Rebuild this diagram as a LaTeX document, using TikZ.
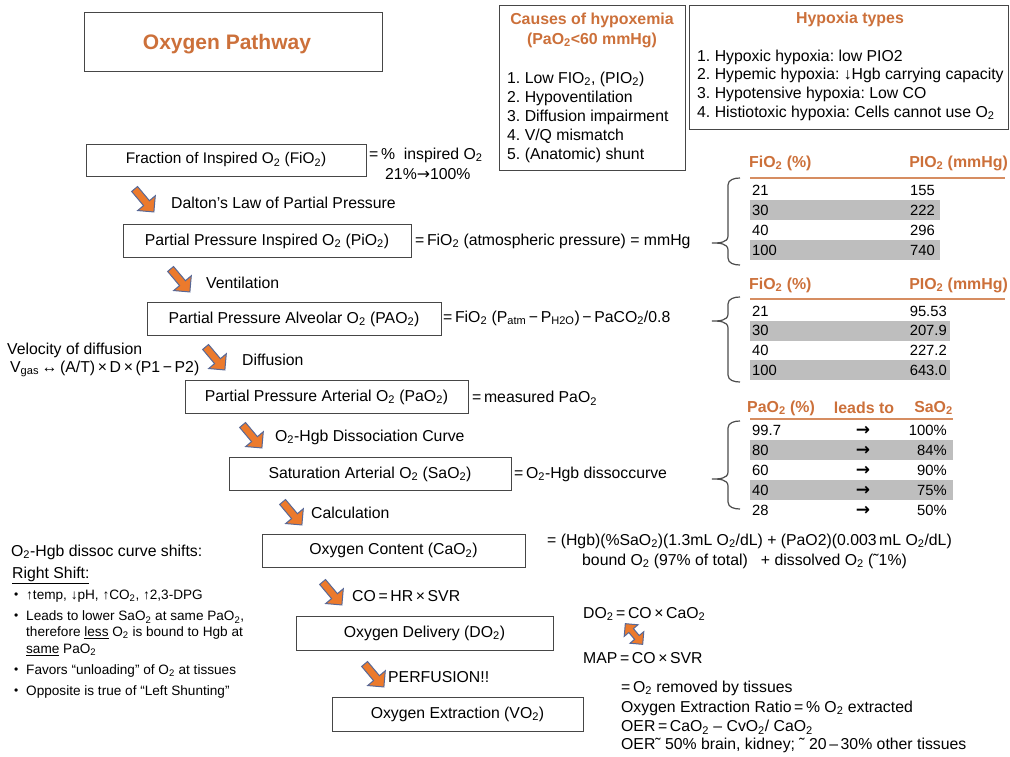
\documentclass[tikz,border=0pt]{standalone}
\usepackage{fontspec}
\setmainfont{Liberation Sans}
\newfontfamily\arrowfont{DejaVu Sans}
\usetikzlibrary{shapes.arrows}
\definecolor{porange}{RGB}{204,112,58}
\definecolor{aorange}{RGB}{236,122,44}
\definecolor{ablue}{RGB}{88,104,150}
\definecolor{rowgray}{RGB}{190,190,190}
\definecolor{boxgray}{RGB}{70,70,70}
\newcommand{\Ot}{O\textsubscript{2}}
\newcommand{\rarr}{{\arrowfont →}}
\frenchspacing
\tikzset
{
    % Style for the steps of the pathway
    stepbox/.style=
    {
        draw=boxgray,
        line width=1pt,
        inner sep=0pt,
        font=\fontsize{15.8}{18}\selectfont
    },
    % Style for the boxes at the top
    topbox/.style=
    {
        draw=boxgray,
        line width=1pt
    },
    % Style for plain text beside the steps
    note/.style=
    {
        anchor=west,
        inner sep=0pt,
        font=\fontsize{15.8}{18}\selectfont
    },
    % Smaller text for the list on the left
    small note/.style=
    {
        note,
        font=\fontsize{13.6}{15}\selectfont
    },
    % Text in the tables
    cell/.style=
    {
        note,
        font=\fontsize{14.8}{16}\selectfont
    },
    % Orange headings
    heading/.style=
    {
        inner sep=0pt,
        text=porange,
        font=\fontsize{15.9}{18}\selectfont\bfseries
    },
    % Style for the fat arrows between the steps
    fat arrow/.style=
    {
        shape=single arrow,
        fill=aorange,
        draw=ablue,
        line width=1pt,
        minimum height=30pt,
        minimum width=23pt,
        single arrow head extend=3pt,
        inner sep=1pt,
        rotate=-50
    },
    % Style for the arrow with two heads
    twin arrow/.style=
    {
        shape=double arrow,
        fill=aorange,
        draw=ablue,
        line width=1pt,
        minimum height=27pt,
        minimum width=18pt,
        double arrow head extend=3pt,
        inner sep=1pt,
        rotate=-50
    },
    % Style for the braces in front of the tables
    tbrace/.style=
    {
        draw=black!70,
        line width=1.2pt
    },
    % Style for the line under a table head
    head line/.style=
    {
        draw=porange!80,
        line width=1.3pt
    }
}
% Brace: x of the hooks, top, tip, bottom
\newcommand{\tabbrace}[4]
{
    \draw[tbrace] (#1,#2) to[out=180,in=90] (#1-12,#2+7) -- (#1-12,#3-7)
        to[out=-90,in=0] (#1-28,#3) to[out=0,in=90] (#1-12,#3+7)
        -- (#1-12,#4-7) to[out=-90,in=180] (#1,#4);
}

\begin{document}
\begin{tikzpicture}[x=1pt,y=-1pt]
    % Bounding box of the whole picture
    \path [use as bounding box] (0,0) rectangle (1010,756);

    % Variables
    %% Row height of the tables
    \def\rowh{20}

    % Title box
    \node (title) [topbox,minimum width=298pt,minimum height=59pt] at (233,41.5) {};
    \node (titletext) [heading,font=\fontsize{21}{24}\selectfont\bfseries] at (227,44) {Oxygen Pathway};

    % Causes of hypoxemia
    \draw[topbox] (499,5) rectangle (685,170);
    \node (causes1) [heading] at (592,20) {Causes of hypoxemia};
    \node (causes2) [heading] at (592,40) {(PaO\textsubscript{2}<60 mmHg)};
    \foreach \t [count=\i] in {{1. Low FIO\textsubscript{2}, (PIO\textsubscript{2})},
                               {2. Hypoventilation},
                               {3. Diffusion impairment},
                               {4. V/Q mismatch},
                               {5. (Anatomic) shunt}}
        \node (cause\i) [note] at (507,{79+(\i-1)*19}) {\t};

    % Hypoxia types
    \draw[topbox] (689,5) rectangle (1008,129);
    \node (types) [heading] at (850,19) {Hypoxia types};
    \node (type1) [note] at (697,57) {1. Hypoxic hypoxia: low PIO2};
    \node (type2) [note] at (697,75) {2. Hypemic hypoxia: ↓Hgb carrying capacity};
    \node (type3) [note] at (697,94) {3. Hypotensive hypoxia: Low CO};
    \node (type4) [note] at (697,113) {4. Histiotoxic hypoxia: Cells cannot use \Ot};

    % Steps of the pathway
    \node (FiO) [stepbox,font=\fontsize{15.4}{17}\selectfont,minimum width=280pt,minimum height=32pt] at (226,160)
        {Fraction of Inspired \Ot{} (FiO\textsubscript{2})};
    \node (PiO) [stepbox,minimum width=288pt,minimum height=33pt] at (267,241)
        {Partial Pressure Inspired \Ot{} (PiO\textsubscript{2})};
    \node (PAO) [stepbox,minimum width=294pt,minimum height=33pt] at (294,319)
        {Partial Pressure Alveolar \Ot{} (PAO\textsubscript{2})};
    \node (PaO) [stepbox,minimum width=283pt,minimum height=33pt] at (326.5,397)
        {Partial Pressure Arterial \Ot{} (PaO\textsubscript{2})};
    \node (SaO) [stepbox,minimum width=282pt,minimum height=33pt] at (370,474)
        {Saturation Arterial \Ot{} (SaO\textsubscript{2})};
    \node (CaO) [stepbox,minimum width=263pt,minimum height=33pt] at (393.5,550.5)
        {Oxygen Content (CaO\textsubscript{2})};
    \node (DOt) [stepbox,minimum width=257pt,minimum height=34pt] at (424.5,633)
        {Oxygen Delivery (DO\textsubscript{2})};
    \node (VOt) [stepbox,minimum width=251pt,minimum height=34pt] at (457.5,714)
        {Oxygen Extraction (VO\textsubscript{2})};

    % Fat arrows with their labels
    \node (A1) [fat arrow] at (143,199) {};
    \node (L1) [note] at (171,203) {Dalton's Law of Partial Pressure};
    \node (A2) [fat arrow] at (179,279) {};
    \node (L2) [note] at (206,283) {Ventilation};
    \node (A3) [fat arrow] at (214,357) {};
    \node (L3) [note] at (242,360) {Diffusion};
    \node (A4) [fat arrow] at (251,435) {};
    \node (L4) [note] at (275,437) {\Ot-Hgb Dissociation Curve};
    \node (A5) [fat arrow] at (291,512) {};
    \node (L5) [note] at (311,513) {Calculation};
    \node (A6) [fat arrow] at (331,592) {};
    \node (L6) [note] at (352,596) {CO\,=\,HR\,×\,SVR};
    \node (A7) [fat arrow] at (373,674) {};
    \node (L7) [note] at (388,677) {PERFUSION!!};

    % Texts beside the steps
    \node (FiOa) [note] at (369,155) {=\,\% \ inspired \Ot};
    \node (FiOb) [note] at (385,174) {21\%\rarr100\%};
    \node (PiOa) [note] at (415,241) {=\,FiO\textsubscript{2} (atmospheric pressure) = mmHg};
    \node (PAOa) [note] at (443,318)
        {=\,FiO\textsubscript{2} (P\textsubscript{atm}\,−\,P\textsubscript{H2O})\,−\,PaCO\textsubscript{2}/0.8};
    \node (vel1) [note] at (7,350) {Velocity of diffusion};
    \node (vel2) [note] at (10,369) {V\textsubscript{gas}\,↔\,(A/T)\,×\,D\,×\,(P1\,−\,P2)};
    \node (PaOa) [note] at (472,398) {=\,measured PaO\textsubscript{2}};
    \node (SaOa) [note] at (514,474) {=\,\Ot-Hgb dissoccurve};
    \node (CaOa) [note] at (547,541)
        {= (Hgb)(\%SaO\textsubscript{2})(1.3mL \Ot/dL) + (PaO2)(0.003\,mL \Ot/dL)};
    \node (CaOb) [note] at (582,561)
        {bound \Ot{} (97\% of total) \ \ + dissolved \Ot{} (˜1\%)};
    \node (DOta) [note] at (583,614) {DO\textsubscript{2}\,=\,CO\,×\,CaO\textsubscript{2}};
    \node (DOtb) [note] at (583,658) {MAP\,=\,CO\,×\,SVR};
    \node (twin) [twin arrow] at (634,634) {};
    \node (VOta) [note] at (621,688) {=\,\Ot{} removed by tissues};
    \node (VOtb) [note] at (621,708) {Oxygen Extraction Ratio\,=\,\% \Ot{} extracted};
    \node (VOtc) [note] at (621,727) {OER\,=\,CaO\textsubscript{2} – CvO\textsubscript{2}/ CaO\textsubscript{2}};
    \node (VOtd) [note] at (621,745) {OER˜ 50\% brain, kidney; ˜ 20\,–\,30\% other tissues};

    % Curve shifts on the left
    \node (shift) [note] at (11,552) {\Ot-Hgb dissoc curve shifts:};
    \node (right) [note] at (12,575) {\underline{Right Shift:}};
    \foreach \y in {596,617,671,692}
        \node [small note,font=\fontsize{12}{12}\selectfont] at (14,\y) {•};
    \node (b1) [small note] at (26,596) {↑temp, ↓pH, ↑CO\textsubscript{2}, ↑2,3-DPG};
    \node (b2) [small note] at (26,617) {Leads to lower SaO\textsubscript{2} at same PaO\textsubscript{2},};
    \node (b2b) [small note] at (26,633) {therefore \underline{less} \Ot{} is bound to Hgb at};
    \node (b2c) [small note] at (26,650) {\underline{same} PaO\textsubscript{2}};
    \node (b3) [small note] at (26,671) {Favors “unloading” of \Ot{} at tissues};
    \node (b4) [small note] at (26,692) {Opposite is true of “Left Shunting”};

    % Table of PIO2
    \node (h1a) [heading,anchor=west] at (749,163) {FiO\textsubscript{2} (\%)};
    \node (h1b) [heading,anchor=east] at (1008,163) {PIO\textsubscript{2} (mmHg)};
    \draw[head line] (750,178) -- (1005,178);
    \foreach \a/\b [count=\i] in {21/155,30/222,40/296,100/740}
    {
        \ifodd\i\else
            \fill[rowgray] (750,{190+(\i-1)*\rowh-10}) rectangle (940,{190+(\i-1)*\rowh+10});
        \fi
        \node (ta\i) [cell] at (752,{190+(\i-1)*\rowh}) {\a};
        \node (tb\i) [cell,anchor=east] at (935,{190+(\i-1)*\rowh}) {\b};
    }
    \tabbrace{740}{178}{243}{265}

    % Table of PAO2
    \node (h2a) [heading,anchor=west] at (749,285) {FiO\textsubscript{2} (\%)};
    \node (h2b) [heading,anchor=east] at (1008,285) {PIO\textsubscript{2} (mmHg)};
    \draw[head line] (750,299) -- (1005,299);
    \foreach \a/\b [count=\i] in {21/95.53,30/207.9,40/227.2,100/643.0}
    {
        \ifodd\i\else
            \fill[rowgray] (750,{311+(\i-1)*19.7-9.8}) rectangle (950,{311+(\i-1)*19.7+9.8});
        \fi
        \node (ua\i) [cell] at (752,{311+(\i-1)*19.7}) {\a};
        \node (ub\i) [cell,anchor=east] at (947,{311+(\i-1)*19.7}) {\b};
    }
    \tabbrace{740}{297}{321}{382}

    % Table of SaO2
    \node (h3a) [heading,anchor=west] at (747,408) {PaO\textsubscript{2} (\%)};
    \node (h3b) [heading] at (864,408) {leads to};
    \node (h3c) [heading,anchor=east] at (953,408) {SaO\textsubscript{2}};
    \draw[head line] (750,419) -- (953,419);
    \foreach \a/\b [count=\i] in {99.7/100\%,80/84\%,60/90\%,40/75\%,28/50\%}
    {
        \ifodd\i\else
            \fill[rowgray] (750,{430+(\i-1)*\rowh-10}) rectangle (953,{430+(\i-1)*\rowh+10});
        \fi
        \node (va\i) [cell] at (752,{430+(\i-1)*\rowh}) {\a};
        \node (vm\i) [cell,anchor=center,font=\fontsize{17}{18}\selectfont\arrowfont\bfseries] at (863,{431+(\i-1)*\rowh}) {→};
        \node (vb\i) [cell,anchor=east] at (947,{430+(\i-1)*\rowh}) {\b};
    }
    \tabbrace{740}{421}{479}{509}
\end{tikzpicture}
\end{document}
